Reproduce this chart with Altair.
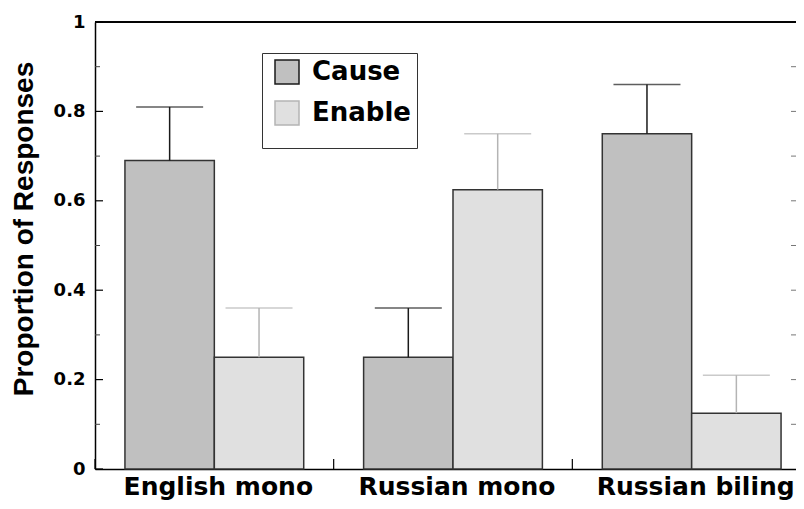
import altair as alt
import pandas as pd

FONT = "Liberation Sans, Arial, Helvetica, sans-serif"
WIDE = "DejaVu Sans, Liberation Sans, Arial, sans-serif"

groups = ["English mono", "Russian mono", "Russian biling"]
series = ["Cause", "Enable"]
cause_vals = [0.69, 0.25, 0.75]
cause_upper = [0.81, 0.36, 0.86]
enable_vals = [0.25, 0.625, 0.125]
enable_upper = [0.36, 0.75, 0.21]
y_tick_labels = [0, 0.2, 0.4, 0.6, 0.8, 1.0]
y_minor_ticks = [0.1, 0.3, 0.5, 0.7, 0.9]
y_right_ticks = [0.1, 0.2, 0.3, 0.4, 0.5, 0.6, 0.7, 0.8, 0.9]

rows = []
for i, g in enumerate(groups):
    rows.append({"group": g, "series": "Cause", "value": cause_vals[i], "upper": cause_upper[i]})
    rows.append({"group": g, "series": "Enable", "value": enable_vals[i], "upper": enable_upper[i]})
df = pd.DataFrame(rows)

W, H = 701, 447       # visible plot area (the frame continues past the page edge)
XR = 716              # full extent of the category scale

xscale = alt.Scale(domain=groups, range=[0, XR], paddingInner=0, paddingOuter=0)
offscale = alt.Scale(domain=series, paddingInner=0, paddingOuter=0.335)
yscale = alt.Scale(domain=[0, 1], nice=False, zero=True)

xaxis = alt.Axis(title=None, labelAngle=0, labelFont=WIDE, labelFontSize=25,
                 labelFontWeight="bold", labelColor="black", labelPadding=25,
                 labelBaseline="alphabetic", labelOffset=4, labelLimit=400,
                 ticks=False, domain=True, domainColor="black", domainWidth=1.5,
                 grid=False)
yaxis = alt.Axis(title="Proportion of Responses", values=y_tick_labels, format="~g",
                 labelFont=WIDE, labelFontSize=18, labelFontWeight="bold",
                 labelColor="black", labelPadding=10, ticks=False, domain=True,
                 domainColor="black", domainWidth=1.5,
                 grid=False, titleFont=FONT, titleFontSize=28, titleFontWeight="bold",
                 titleColor="black", titleAngle=270, titleX=-63, titleY=206.5,
                 titleAlign="center", titleBaseline="alphabetic")

X = alt.X("group:N", scale=xscale, axis=xaxis)
XO = alt.XOffset("series:N", scale=offscale)

legend = alt.Legend(orient="none", legendX=167, legendY=31, title=" ",
                    titleOrient="bottom", titleFontSize=10, titlePadding=4,
                    padding=6, strokeColor="#333", fillColor="white",
                    symbolType="square", symbolSize=576, symbolStrokeColor="#333",
                    symbolStrokeWidth=1.5, symbolOffset=6, symbolOpacity=1,
                    labelFont=WIDE, labelFontSize=26, labelFontWeight="bold",
                    labelColor="black", labelOffset=12, rowPadding=11, labelLimit=300)

bars = alt.Chart(df).mark_bar(stroke="#333", strokeWidth=1.5).encode(
    x=X, xOffset=XO,
    y=alt.Y("value:Q", scale=yscale, axis=yaxis),
    fill=alt.Fill("series:N", scale=alt.Scale(domain=series, range=["#c0c0c0", "#e0e0e0"]),
                  legend=legend),
)

err_color = alt.Color("series:N", scale=alt.Scale(domain=series, range=["#1a1a1a", "#b4b4b4"]),
                      legend=None)

stems = alt.Chart(df).mark_rule(strokeWidth=1.5).encode(
    x=X, xOffset=XO,
    y=alt.Y("value:Q", scale=yscale, axis=yaxis),
    y2="upper:Q",
    color=err_color,
)

caps = alt.Chart(df).mark_tick(thickness=1.5, size=67).encode(
    x=X, xOffset=XO,
    y=alt.Y("upper:Q", scale=yscale, axis=yaxis),
    color=err_color,
)

gticks = alt.Chart(pd.DataFrame({"group": groups})).mark_rule(color="black", strokeWidth=1.2).encode(
    x=alt.X("group:N", scale=xscale, axis=xaxis, bandPosition=0),
    y=alt.value(H), y2=alt.value(H - 10),
)

top_line = alt.Chart(pd.DataFrame({"group": groups})).mark_rule(color="black", strokeWidth=1.5).encode(
    y=alt.value(0), x=alt.value(0), x2=alt.value(W),
)

lmaj = alt.Chart(pd.DataFrame({"tick": y_tick_labels})).mark_rule(color="black", strokeWidth=1.2).encode(
    y=alt.Y("tick:Q", scale=yscale, axis=yaxis), x=alt.value(0), x2=alt.value(8),
)
lmin = alt.Chart(pd.DataFrame({"tick": y_minor_ticks})).mark_rule(color="#444", strokeWidth=1).encode(
    y=alt.Y("tick:Q", scale=yscale, axis=yaxis), x=alt.value(0), x2=alt.value(5),
)
rt = alt.Chart(pd.DataFrame({"tick": y_right_ticks})).mark_rule(color="#777", strokeWidth=1).encode(
    y=alt.Y("tick:Q", scale=yscale, axis=yaxis), x=alt.value(W - 5), x2=alt.value(W),
)

chart = alt.layer(bars, stems, caps, gticks, top_line, lmaj, lmin, rt).properties(
    width=W, height=H,
    autosize=alt.AutoSizeParams(type="none"),
    padding={"left": 87, "top": 14, "right": 0, "bottom": 32},
).configure_view(stroke=None).configure(font=FONT)

chart.save("out.html", embed_options={"renderer": "svg", "actions": False})
